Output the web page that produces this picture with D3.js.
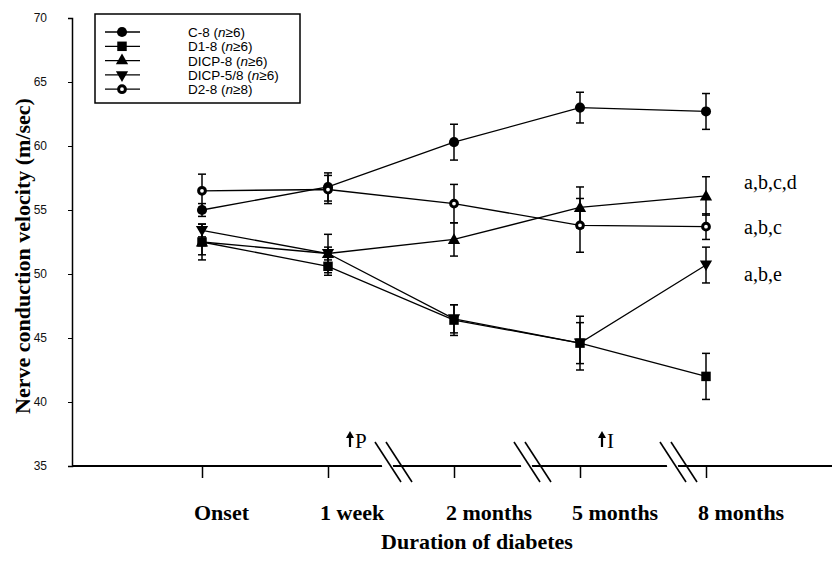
<!DOCTYPE html>
<html>
<head>
<meta charset="utf-8">
<script src="https://cdn.jsdelivr.net/npm/d3@7"></script>
<style>
  body { margin: 0; background: #fff; }
  svg { display: block; }
</style>
</head>
<body>
<div id="chart"></div>
<script>
// data
let categories = ["Onset", "1 week", "2 months", "5 months", "8 months"];
let yTicks = [35, 40, 45, 50, 55, 60, 65, 70];

let c8 = [55.0, 56.8, 60.3, 63.0, 62.7];
let c8Err = [0.5, 1.1, 1.4, 1.2, 1.4];
let d18 = [52.5, 50.6, 46.4, 44.6, 42.0];
let d18Err = [1.4, 0.7, 1.2, 1.6, 1.8];
let dicp8 = [52.5, 51.6, 52.7, 55.2, 56.1];
let dicp8Err = [1.0, 1.5, 1.3, 1.6, 1.5];
let dicp58 = [53.4, 51.6, 46.5, 44.6, 50.7];
let dicp58Err = [0.5, 0.5, 1.1, 2.1, 1.4];
let d28 = [56.5, 56.6, 55.5, 53.8, 53.7];
let d28Err = [1.3, 1.1, 1.5, 2.1, 1.0];

let seriesNames = ["C-8", "D1-8", "DICP-8", "DICP-5/8", "D2-8"];
let seriesN = ["6", "6", "6", "6", "8"];
let annotations = [["a,b,c,d", 57.1], ["a,b,c", 53.6], ["a,b,e", 49.9]];

let w = 832, h = 567;
let svg = d3.select("#chart").append("svg").attr("width", w).attr("height", h);

let x = d3.scalePoint().domain(categories).range([202, 706]);
let y = d3.scaleLinear().domain([35, 70]).range([466, 18]);

let serif = "'Liberation Serif', 'Times New Roman', serif";
let sans = "'Liberation Sans', Arial, sans-serif";

/* axes */
let yAxis = svg.append("g").attr("transform", "translate(72,0)")
  .call(d3.axisLeft(y).tickValues(yTicks).tickSize(4).tickPadding(21));
yAxis.select(".domain").attr("stroke", "#000").attr("stroke-width", 1.5);
yAxis.selectAll("text").style("font-family", sans).style("font-size", "12px").attr("fill", "#111");

let xAxis = svg.append("g").attr("transform", "translate(0,466)")
  .call(d3.axisBottom(x).tickSize(12).tickFormat(""));
xAxis.select(".domain").remove();
xAxis.selectAll("line").attr("stroke-width", 1.5);
svg.append("line").attr("x1", 72).attr("x2", 832).attr("y1", 466).attr("y2", 466)
  .attr("stroke", "#000").attr("stroke-width", 2);

// axis breaks (double slashes)
let breaks = [["1 week", 47], ["2 months", 60], ["5 months", 80]];
breaks.forEach(function(b) {
  let x0 = x(b[0]) + b[1];
  svg.append("polygon")
    .attr("points", [[x0 + 3, 446], [x0 + 14, 446], [x0 + 22, 486], [x0 + 11, 486]].join(" "))
    .attr("fill", "#fff");
  [0, 11].forEach(function(o) {
    svg.append("line").attr("x1", x0 + o).attr("y1", 442).attr("x2", x0 + o + 26).attr("y2", 482)
      .attr("stroke", "#000").attr("stroke-width", 1.6);
  });
});

// arrows
[["1 week", "P"], ["5 months", "I"]].forEach(function(a) {
  let ax = x(a[0]) + 22;
  svg.append("line").attr("x1", ax).attr("x2", ax).attr("y1", 436).attr("y2", 447)
    .attr("stroke", "#000").attr("stroke-width", 2.2);
  svg.append("path").attr("d", "M" + (ax - 4) + ",438 L" + ax + ",431 L" + (ax + 4) + ",438 Z")
    .attr("fill", "#000");
  svg.append("text").attr("x", ax + 5).attr("y", 448)
    .style("font-family", serif).style("font-size", "21px").text(a[1]);
});

// category labels
svg.selectAll(".cat").data(categories).enter().append("text")
  .attr("x", d => x(d) - 8).attr("y", 520)
  .style("font-family", serif).style("font-size", "22px").style("font-weight", "bold")
  .text(d => d);

svg.append("text").attr("x", 477).attr("y", 549).attr("text-anchor", "middle")
  .style("font-family", serif).style("font-size", "22px").style("font-weight", "bold")
  .text("Duration of diabetes");

svg.append("text").attr("transform", "translate(30,256) rotate(-90)").attr("text-anchor", "middle")
  .style("font-family", serif).style("font-size", "22px").style("font-weight", "bold")
  .text("Nerve conduction velocity (m/sec)");

/* series */
let series = [
  {vals: c8, err: c8Err, sym: d3.symbolCircle, size: 80, rot: 0, open: false},
  {vals: d18, err: d18Err, sym: d3.symbolSquare, size: 90, rot: 0, open: false},
  {vals: dicp8, err: dicp8Err, sym: d3.symbolTriangle, size: 65, rot: 0, open: false},
  {vals: dicp58, err: dicp58Err, sym: d3.symbolTriangle, size: 65, rot: 180, open: false},
  {vals: d28, err: d28Err, sym: d3.symbolCircle, size: 36, rot: 0, open: true}
];

let line = d3.line().x((d, i) => x(categories[i])).y(d => y(d));

series.forEach(function(s) {
  svg.append("path").attr("d", line(s.vals)).attr("fill", "none")
    .attr("stroke", "#000").attr("stroke-width", 1.3);
});

series.forEach(function(s) {
  s.vals.forEach(function(v, i) {
    let cx = x(categories[i]);
    let g = svg.append("g").attr("stroke", "#000").attr("stroke-width", 1.5);
    g.append("line").attr("x1", cx).attr("x2", cx).attr("y1", y(v - s.err[i])).attr("y2", y(v + s.err[i]));
    [v - s.err[i], v + s.err[i]].forEach(function(e) {
      g.append("line").attr("x1", cx - 4).attr("x2", cx + 4).attr("y1", y(e)).attr("y2", y(e));
    });
  });
});

function marker(g, s, cx, cy) {
  let p = g.append("path").attr("d", d3.symbol().type(s.sym).size(s.size)())
    .attr("transform", "translate(" + cx + "," + cy + ") rotate(" + s.rot + ")");
  if (s.open) p.attr("fill", "#fff").attr("stroke", "#000").attr("stroke-width", 3);
  else p.attr("fill", "#000");
}

series.forEach(function(s) {
  s.vals.forEach(function(v, i) {
    marker(svg, s, x(categories[i]), y(v) + (s.sym === d3.symbolTriangle ? (s.rot ? -1 : 1) : 0));
  });
});

// significance letters
svg.selectAll(".ann").data(annotations).enter().append("text")
  .attr("x", x("8 months") + 38).attr("y", d => y(d[1]) + 6)
  .style("font-family", serif).style("font-size", "20px")
  .text(d => d[0]);

/* legend */
let leg = svg.append("g");
leg.append("rect").attr("x", 95).attr("y", 14).attr("width", 205).attr("height", 89)
  .attr("fill", "#fff").attr("stroke", "#000").attr("stroke-width", 1.5);
series.forEach(function(s, i) {
  let ly = 32 + i * 14.3;
  leg.append("line").attr("x1", 105).attr("x2", 140).attr("y1", ly).attr("y2", ly)
    .attr("stroke", "#000").attr("stroke-width", 1.3);
  marker(leg, s, 122, ly);
  let t = leg.append("text").attr("x", 188).attr("y", ly + 5)
    .style("font-family", sans).style("font-size", "13.5px");
  t.append("tspan").text(seriesNames[i] + " (");
  t.append("tspan").style("font-style", "italic").text("n");
  t.append("tspan").text("\u2265" + seriesN[i] + ")");
});
</script>
</body>
</html>
